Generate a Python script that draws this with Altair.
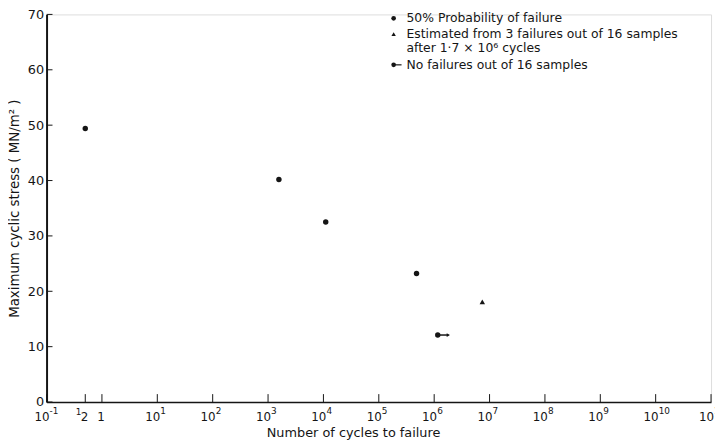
import altair as alt
import pandas as pd

# ---- data ----
fail_cycles = [0.5, 1.57e3, 1.1e4, 4.8e5]
fail_stress = [49.4, 40.2, 32.5, 23.2]
est_cycles = [7.4e6]
est_stress = [18.1]
nofail_cycles = [1.16e6]
nofail_stress = [12.1]
nofail_arrow_end = [1.8e6]

x_ticks = [0.1, 0.5, 1, 1e1, 1e2, 1e3, 1e4, 1e5, 1e6, 1e7, 1e8, 1e9, 1e10, 1e11]
x_label_base = ["10", "2", "1", "10", "10", "10", "10", "10", "10", "10",
                "10", "10", "10", "10"]
x_label_exp = ["-1", "", "", "1", "2", "3", "4", "5", "6", "7", "8", "9", "10", "11"]
x_label_pre = ["", "1", "", "", "", "", "", "", "", "", "", "", "", ""]
y_ticks = [0, 10, 20, 30, 40, 50, 60, 70]

legend_lines = ["50% Probability of  failure",
                "Estimated from 3 failures out of 16 samples",
                "after 1·7 × 10⁶ cycles",
                "No failures out of 16 samples"]

W, H = 672, 392
FONT = "DejaVu Sans"
INK = "#151515"

xscale = alt.Scale(type="log", domain=[0.1, 1e11], nice=False)
yscale = alt.Scale(domain=[0, 70], nice=False)

fail_df = pd.DataFrame({"cycles": fail_cycles, "stress": fail_stress})
est_df = pd.DataFrame({"cycles": est_cycles, "stress": est_stress})
nof_df = pd.DataFrame({"cycles": nofail_cycles, "stress": nofail_stress,
                       "end": nofail_arrow_end})
one = pd.DataFrame({"k": [0]})

base_x = alt.X("cycles:Q", scale=xscale,
               axis=alt.Axis(values=x_ticks, labels=False, ticks=False, grid=False,
                             title="Number of cycles to failure", titleFont=FONT,
                             titleFontSize=13, titleFontWeight="normal",
                             titleColor=INK, titlePadding=25, titleX=310,
                             titleAnchor="middle",
                             domainColor=INK, domainWidth=1.5))
base_y = alt.Y("stress:Q", scale=yscale,
               axis=alt.Axis(values=y_ticks, ticks=False, grid=False,
                             labelFontSize=13, labelColor=INK, labelFont=FONT,
                             labelPadding=3,
                             title="Maximum cyclic stress ( MN/m² )", titleFont=FONT,
                             titleFontSize=13.5, titleFontWeight="normal",
                             titleColor=INK, titlePadding=6,
                             domainColor=INK, domainWidth=2))

fail_pts = alt.Chart(fail_df).mark_point(filled=True, shape="circle", size=30,
                                         color=INK, opacity=1).encode(x=base_x, y=base_y)
est_pts = alt.Chart(est_df).mark_point(filled=True, shape="triangle-up", size=30,
                                       color=INK, opacity=1).encode(x="cycles:Q", y="stress:Q")
nof_line = alt.Chart(nof_df).mark_rule(color=INK, strokeWidth=1.5).encode(
    x="cycles:Q", x2="end:Q", y="stress:Q")
nof_pts = alt.Chart(nof_df).mark_point(filled=True, shape="circle", size=30,
                                       color=INK, opacity=1).encode(x="cycles:Q", y="stress:Q")
nof_head = alt.Chart(nof_df).mark_point(filled=True, shape="triangle-right", size=14,
                                        color=INK, opacity=1).encode(x="end:Q", y="stress:Q")

# inward tick marks
xt_df = pd.DataFrame({"cycles": x_ticks, "base": x_label_base, "exp": x_label_exp,
                      "pre": x_label_pre})
yt_df = pd.DataFrame({"stress": y_ticks})
x_tick_marks = alt.Chart(xt_df).mark_rule(color=INK, strokeWidth=1).encode(
    x="cycles:Q", y=alt.value(H), y2=alt.value(H - 8))
y_tick_marks = alt.Chart(yt_df).mark_rule(color=INK, strokeWidth=1).encode(
    y="stress:Q", x=alt.value(0), x2=alt.value(6))

# x tick labels with superscripts
x_base_lbl = alt.Chart(xt_df).mark_text(align="right", baseline="middle", font=FONT,
                                        fontSize=12, color=INK, dx=3).encode(
    x="cycles:Q", y=alt.value(H + 15), text="base:N")
x_exp_lbl = alt.Chart(xt_df).mark_text(align="left", baseline="middle", font=FONT,
                                       fontSize=9, color=INK, dx=3).encode(
    x="cycles:Q", y=alt.value(H + 9), text="exp:N")
x_pre_lbl = alt.Chart(xt_df).mark_text(align="right", baseline="middle", font=FONT,
                                       fontSize=9, color=INK, dx=-4).encode(
    x="cycles:Q", y=alt.value(H + 10), text="pre:N")

# legend
LX, TX = 351, 364
leg_rows = [4, 20, 34, 51]
legend = [
    alt.Chart(one).mark_point(filled=True, shape="circle", size=22, color=INK,
                              opacity=1).encode(x=alt.value(LX), y=alt.value(leg_rows[0])),
    alt.Chart(one).mark_point(filled=True, shape="triangle-up", size=20, color=INK,
                              opacity=1).encode(x=alt.value(LX), y=alt.value(leg_rows[1])),
    alt.Chart(one).mark_point(filled=True, shape="circle", size=22, color=INK,
                              opacity=1).encode(x=alt.value(LX), y=alt.value(leg_rows[3])),
    alt.Chart(one).mark_rule(color=INK, strokeWidth=1.2).encode(
        x=alt.value(LX), x2=alt.value(LX + 8), y=alt.value(leg_rows[3])),
]
for txt, yy in zip(legend_lines, leg_rows):
    legend.append(alt.Chart(one).mark_text(align="left", baseline="middle",
                                           font=FONT, fontSize=12.5, color=INK,
                                           fontWeight="normal").encode(
        x=alt.value(TX), y=alt.value(yy), text=alt.value(txt)))

chart = alt.layer(
    fail_pts, est_pts, nof_line, nof_pts, nof_head, x_tick_marks, y_tick_marks,
    x_base_lbl, x_exp_lbl, x_pre_lbl, *legend
).properties(
    width=W, height=H,
    autosize=alt.AutoSizeParams(type="none"),
    padding={"left": 39, "top": 4, "right": 4, "bottom": 44},
).configure_view(stroke=INK, strokeWidth=1).configure(background="white")

chart.save("out.html", embed_options={"renderer": "svg", "actions": False})
